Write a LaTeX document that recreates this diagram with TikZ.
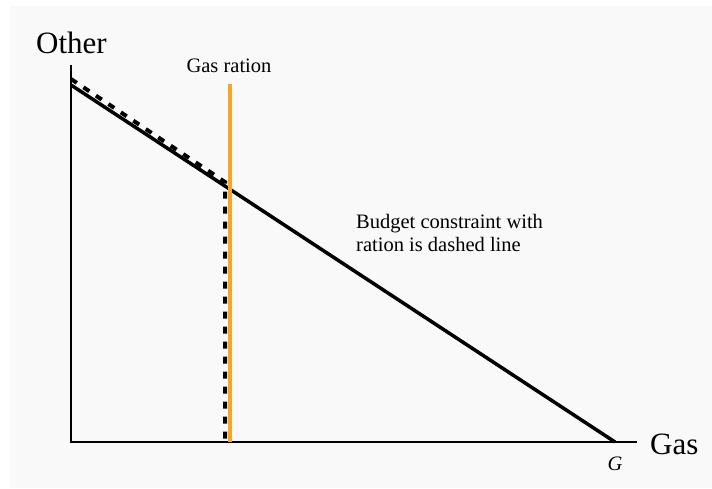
\documentclass[tikz,border=0pt]{standalone}
\usepackage{fontspec}
\setmainfont{Liberation Serif}
\usetikzlibrary{positioning}
\definecolor{rationorange}{RGB}{245,166,35}
\definecolor{paper}{RGB}{249,249,249}

\begin{document}
\begin{tikzpicture}[x=1pt,y=-1pt,
  axis/.style={draw,line width=2pt},
  budget/.style={draw,line width=3.5pt},
  rationline/.style={draw=rationorange,line width=3.5pt},
  dashbudget/.style={draw,line width=4pt,dash pattern=on 7pt off 8pt},
  bigtxt/.style={font=\fontsize{31}{36}\selectfont,inner sep=0pt},
  smalltxt/.style={font=\fontsize{20.5}{23}\selectfont,inner sep=0pt,align=left}]
\useasboundingbox (0,0) rectangle (712,488);
\fill[paper] (10,6) rectangle (712,488);
% axes
\coordinate (origin) at (71,442);
\coordinate (ytop) at (71,65);
\coordinate (xend) at (637,442);
\draw[axis] (ytop)--(origin)--(xend);
\node[bigtxt,anchor=base west] (other) at (36,53) {Other};
\node[bigtxt,anchor=base west] (gas) at (650,454) {Gas};
% budget line and ration
\coordinate (income) at (71,85);
\coordinate (gmax) at (615,442);
\draw[budget] (income)--(gmax);
\node[smalltxt,anchor=base] (g) at (615,470) {\textit{G}};
\coordinate (rtop) at (230,84);
\coordinate (rbot) at (230,442);
\draw[rationline] (rtop)--(rbot);
\node[smalltxt,anchor=base] (rlabel) at (229,72) {Gas ration};
\coordinate (dstart) at (71,79);
\coordinate (dcorner) at (225,182);
\coordinate (dbot) at (225,442);
\draw[dashbudget] (dstart)--(dcorner)--(dbot);
\node[smalltxt,anchor=north west] (note) at (356,214) {Budget constraint with\\ration is dashed line};
\end{tikzpicture}
\end{document}
